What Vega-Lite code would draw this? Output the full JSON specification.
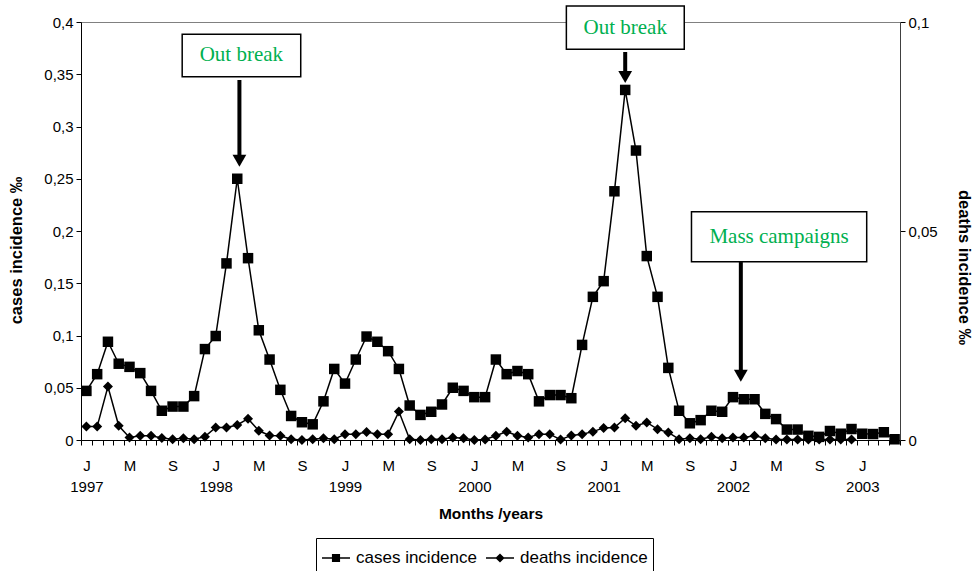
{
  "$schema": "https://vega.github.io/schema/vega-lite/v6.json",
  "width": 819,
  "height": 418,
  "autosize": {"type": "none"},
  "padding": {"left": 81, "top": 22, "right": 72, "bottom": 131},
  "config": {
    "view": {"stroke": "#808080", "strokeWidth": 1},
    "font": "Liberation Sans",
    "axis": {
      "grid": false,
      "domainColor": "black",
      "tickColor": "black",
      "labelColor": "black",
      "titleColor": "black",
      "labelFont": "Liberation Sans",
      "labelFontSize": 15,
      "titleFont": "Liberation Sans",
      "titleFontSize": 16.5,
      "titleFontWeight": "bold",
      "tickSize": 5,
      "domainWidth": 1,
      "tickWidth": 1
    },
    "legend": {
      "labelFont": "Liberation Sans",
      "labelFontSize": 17,
      "labelColor": "black"
    }
  },
  "datasets": {
    "series": [
      {"i": 0, "month": "1997-01", "cases": 0.047, "deaths": 0.0032},
      {"i": 1, "month": "1997-02", "cases": 0.063, "deaths": 0.0032},
      {"i": 2, "month": "1997-03", "cases": 0.094, "deaths": 0.0128},
      {"i": 3, "month": "1997-04", "cases": 0.073, "deaths": 0.0034},
      {"i": 4, "month": "1997-05", "cases": 0.070, "deaths": 0.0006},
      {"i": 5, "month": "1997-06", "cases": 0.064, "deaths": 0.001},
      {"i": 6, "month": "1997-07", "cases": 0.047, "deaths": 0.001},
      {"i": 7, "month": "1997-08", "cases": 0.028, "deaths": 0.0005},
      {"i": 8, "month": "1997-09", "cases": 0.032, "deaths": 0.0002},
      {"i": 9, "month": "1997-10", "cases": 0.032, "deaths": 0.0004},
      {"i": 10, "month": "1997-11", "cases": 0.042, "deaths": 0.0002},
      {"i": 11, "month": "1997-12", "cases": 0.087, "deaths": 0.0008},
      {"i": 12, "month": "1998-01", "cases": 0.0995, "deaths": 0.003},
      {"i": 13, "month": "1998-02", "cases": 0.169, "deaths": 0.003},
      {"i": 14, "month": "1998-03", "cases": 0.25, "deaths": 0.0036},
      {"i": 15, "month": "1998-04", "cases": 0.174, "deaths": 0.0051},
      {"i": 16, "month": "1998-05", "cases": 0.105, "deaths": 0.0022},
      {"i": 17, "month": "1998-06", "cases": 0.077, "deaths": 0.0011},
      {"i": 18, "month": "1998-07", "cases": 0.048, "deaths": 0.001},
      {"i": 19, "month": "1998-08", "cases": 0.023, "deaths": 0.0002},
      {"i": 20, "month": "1998-09", "cases": 0.017, "deaths": 0},
      {"i": 21, "month": "1998-10", "cases": 0.015, "deaths": 0.0002},
      {"i": 22, "month": "1998-11", "cases": 0.037, "deaths": 0.0004},
      {"i": 23, "month": "1998-12", "cases": 0.068, "deaths": 0.0002},
      {"i": 24, "month": "1999-01", "cases": 0.054, "deaths": 0.0014},
      {"i": 25, "month": "1999-02", "cases": 0.077, "deaths": 0.0014},
      {"i": 26, "month": "1999-03", "cases": 0.099, "deaths": 0.0019},
      {"i": 27, "month": "1999-04", "cases": 0.094, "deaths": 0.0014},
      {"i": 28, "month": "1999-05", "cases": 0.085, "deaths": 0.0014},
      {"i": 29, "month": "1999-06", "cases": 0.068, "deaths": 0.0068},
      {"i": 30, "month": "1999-07", "cases": 0.033, "deaths": 0.0002},
      {"i": 31, "month": "1999-08", "cases": 0.024, "deaths": 0},
      {"i": 32, "month": "1999-09", "cases": 0.027, "deaths": 0.0002},
      {"i": 33, "month": "1999-10", "cases": 0.034, "deaths": 0.0002},
      {"i": 34, "month": "1999-11", "cases": 0.050, "deaths": 0.0006},
      {"i": 35, "month": "1999-12", "cases": 0.047, "deaths": 0.0004},
      {"i": 36, "month": "2000-01", "cases": 0.041, "deaths": 0},
      {"i": 37, "month": "2000-02", "cases": 0.041, "deaths": 0.0001},
      {"i": 38, "month": "2000-03", "cases": 0.077, "deaths": 0.001},
      {"i": 39, "month": "2000-04", "cases": 0.063, "deaths": 0.002},
      {"i": 40, "month": "2000-05", "cases": 0.066, "deaths": 0.001},
      {"i": 41, "month": "2000-06", "cases": 0.063, "deaths": 0.0006},
      {"i": 42, "month": "2000-07", "cases": 0.037, "deaths": 0.0014},
      {"i": 43, "month": "2000-08", "cases": 0.043, "deaths": 0.0014},
      {"i": 44, "month": "2000-09", "cases": 0.043, "deaths": 0.0001},
      {"i": 45, "month": "2000-10", "cases": 0.040, "deaths": 0.0011},
      {"i": 46, "month": "2000-11", "cases": 0.091, "deaths": 0.0014},
      {"i": 47, "month": "2000-12", "cases": 0.137, "deaths": 0.002},
      {"i": 48, "month": "2001-01", "cases": 0.152, "deaths": 0.0029},
      {"i": 49, "month": "2001-02", "cases": 0.238, "deaths": 0.003},
      {"i": 50, "month": "2001-03", "cases": 0.335, "deaths": 0.0052},
      {"i": 51, "month": "2001-04", "cases": 0.277, "deaths": 0.0034},
      {"i": 52, "month": "2001-05", "cases": 0.176, "deaths": 0.0042},
      {"i": 53, "month": "2001-06", "cases": 0.137, "deaths": 0.0026},
      {"i": 54, "month": "2001-07", "cases": 0.069, "deaths": 0.0018},
      {"i": 55, "month": "2001-08", "cases": 0.028, "deaths": 0.0002},
      {"i": 56, "month": "2001-09", "cases": 0.016, "deaths": 0.0004},
      {"i": 57, "month": "2001-10", "cases": 0.019, "deaths": 0.0002},
      {"i": 58, "month": "2001-11", "cases": 0.028, "deaths": 0.0008},
      {"i": 59, "month": "2001-12", "cases": 0.027, "deaths": 0.0004},
      {"i": 60, "month": "2002-01", "cases": 0.041, "deaths": 0.0006},
      {"i": 61, "month": "2002-02", "cases": 0.039, "deaths": 0.0006},
      {"i": 62, "month": "2002-03", "cases": 0.039, "deaths": 0.001},
      {"i": 63, "month": "2002-04", "cases": 0.025, "deaths": 0.0004},
      {"i": 64, "month": "2002-05", "cases": 0.020, "deaths": 0.0001},
      {"i": 65, "month": "2002-06", "cases": 0.010, "deaths": 0.0001},
      {"i": 66, "month": "2002-07", "cases": 0.010, "deaths": 0.0001},
      {"i": 67, "month": "2002-08", "cases": 0.004, "deaths": 0.0001},
      {"i": 68, "month": "2002-09", "cases": 0.003, "deaths": 0.0001},
      {"i": 69, "month": "2002-10", "cases": 0.0086, "deaths": 0.0001},
      {"i": 70, "month": "2002-11", "cases": 0.006, "deaths": 0.0001},
      {"i": 71, "month": "2002-12", "cases": 0.0105, "deaths": 0.0001},
      {"i": 72, "month": "2003-01", "cases": 0.006, "deaths": null},
      {"i": 73, "month": "2003-02", "cases": 0.0057, "deaths": null},
      {"i": 74, "month": "2003-03", "cases": 0.0074, "deaths": null},
      {"i": 75, "month": "2003-04", "cases": 0.0007, "deaths": null}
    ],
    "boxes": [
      {"i": 8.89, "i2": 19.89, "y": 0.3882, "y2": 0.3477},
      {"i": 44.54, "i2": 55.48, "y": 0.4153, "y2": 0.3739},
      {"i": 56.15, "i2": 72.41, "y": 0.2185, "y2": 0.1706}
    ],
    "labels": [
      {"i": 14.38, "y": 0.368, "text": "Out break"},
      {"i": 50.0, "y": 0.3946, "text": "Out break"},
      {"i": 64.28, "y": 0.1945, "text": "Mass campaigns"}
    ],
    "arrows": [
      {"i": 14.2, "y": 0.3445, "y2": 0.2673, "tip": 0.2673},
      {"i": 50.0, "y": 0.3713, "y2": 0.3474, "tip": 0.3474},
      {"i": 60.73, "y": 0.1703, "y2": 0.0615, "tip": 0.0615}
    ],
    "legendItems": []
  },
  "encoding": {
    "x": {
      "field": "i",
      "type": "quantitative",
      "scale": {"domain": [-0.5, 75.5], "nice": false, "zero": false},
      "axis": {
        "values": [-0.5, 0.5, 1.5, 2.5, 3.5, 4.5, 5.5, 6.5, 7.5, 8.5, 9.5, 10.5, 11.5, 12.5, 13.5, 14.5, 15.5, 16.5, 17.5, 18.5, 19.5, 20.5, 21.5, 22.5, 23.5, 24.5, 25.5, 26.5, 27.5, 28.5, 29.5, 30.5, 31.5, 32.5, 33.5, 34.5, 35.5, 36.5, 37.5, 38.5, 39.5, 40.5, 41.5, 42.5, 43.5, 44.5, 45.5, 46.5, 47.5, 48.5, 49.5, 50.5, 51.5, 52.5, 53.5, 54.5, 55.5, 56.5, 57.5, 58.5, 59.5, 60.5, 61.5, 62.5, 63.5, 64.5, 65.5, 66.5, 67.5, 68.5, 69.5, 70.5, 71.5, 72.5, 73.5, 74.5, 75.5],
        "labelExpr": "datum.value > 74 ? '' : ((datum.value + 0.5) % 12 == 0 ? ['J', '' + (1997 + (datum.value + 0.5) / 12)] : ((datum.value + 0.5) % 12 == 4 ? 'M' : ((datum.value + 0.5) % 12 == 8 ? 'S' : '')))",
        "labelOffset": 5.4,
        "labelOverlap": false,
        "labelFlush": false,
        "labelBound": false,
        "labelPadding": 13,
        "labelLineHeight": 21,
        "title": "Months /years",
        "titleFontSize": 15.5,
        "titlePadding": 12
      }
    }
  },
  "layer": [
    {
      "layer": [
        {
          "data": {"name": "series"},
          "mark": {"type": "line", "color": "black", "strokeWidth": 1.5},
          "encoding": {
            "y": {
              "field": "cases",
              "type": "quantitative",
              "title": "cases incidence ‰",
              "scale": {"domain": [0, 0.4], "nice": false, "zero": true},
              "axis": {
                "values": [0, 0.05, 0.1, 0.15, 0.2, 0.25, 0.3, 0.35, 0.4],
                "labelExpr": "replace(toString(datum.value), '.', ',')",
                "labelPadding": 3,
                "titleX": -57,
                "titleY": 228
              }
            }
          }
        },
        {
          "data": {"name": "series"},
          "mark": {"type": "point", "shape": "square", "filled": true, "color": "black", "size": 110, "opacity": 1},
          "encoding": {
            "y": {"field": "cases", "type": "quantitative", "title": "cases incidence ‰"}
          }
        },
        {
          "data": {"name": "boxes"},
          "mark": {"type": "rect", "fill": "white", "stroke": "black", "strokeWidth": 1.5},
          "encoding": {
            "x2": {"field": "i2"},
            "y": {"field": "y", "type": "quantitative", "title": "cases incidence ‰"},
            "y2": {"field": "y2"}
          }
        },
        {
          "data": {"name": "arrows"},
          "mark": {"type": "rule", "color": "black", "strokeWidth": 4},
          "encoding": {
            "y": {"field": "y", "type": "quantitative", "title": "cases incidence ‰"},
            "y2": {"field": "y2"}
          }
        },
        {
          "data": {"name": "arrows"},
          "mark": {"type": "point", "shape": "triangle-down", "filled": true, "color": "black", "size": 190, "opacity": 1},
          "encoding": {
            "y": {"field": "tip", "type": "quantitative", "title": "cases incidence ‰"}
          }
        },
        {
          "data": {"name": "labels"},
          "mark": {"type": "text", "font": "Liberation Serif", "fontSize": 21, "color": "#00b050", "align": "center", "baseline": "middle"},
          "encoding": {
            "y": {"field": "y", "type": "quantitative", "title": "cases incidence ‰"},
            "text": {"field": "text"}
          }
        },
        {
          "data": {"name": "legendItems"},
          "mark": {"type": "point", "filled": true, "color": "black", "opacity": 1},
          "encoding": {
            "y": {"field": "v", "type": "quantitative", "title": "cases incidence ‰"},
            "shape": {
              "field": "series",
              "type": "nominal",
              "scale": {
                "domain": ["cases incidence", "deaths incidence"],
                "range": ["M-1,-0.055L1,-0.055L1,0.055L-1,0.055ZM-0.29,-0.29L0.29,-0.29L0.29,0.29L-0.29,0.29Z", "M-1,-0.055L1,-0.055L1,0.055L-1,0.055ZM0,-0.33L0.33,0L0,0.33L-0.33,0Z"]
              },
              "legend": {
                "title": null,
                "orient": "none",
                "legendX": 235,
                "legendY": 516,
                "direction": "horizontal",
                "strokeColor": "black",
                "padding": 5,
                "columnPadding": 6,
                "symbolSize": 784,
                "symbolFillColor": "black",
                "symbolOpacity": 1,
                "labelOffset": 5
              }
            }
          }
        }
      ]
    },
    {
      "data": {"name": "series"},
      "layer": [
        {
          "mark": {"type": "line", "color": "black", "strokeWidth": 1.5},
          "encoding": {
            "y": {
              "field": "deaths",
              "type": "quantitative",
              "title": "deaths incidence ‰",
              "scale": {"domain": [0, 0.1], "nice": false, "zero": true},
              "axis": {
                "orient": "right",
                "values": [0, 0.05, 0.1],
                "labelExpr": "replace(toString(datum.value), '.', ',')",
                "domainColor": "#404040",
                "labelPadding": 3,
                "titleX": 55,
                "titleY": 245
              }
            }
          }
        },
        {
          "mark": {"type": "point", "shape": "diamond", "filled": true, "color": "black", "size": 100, "opacity": 1},
          "encoding": {
            "y": {"field": "deaths", "type": "quantitative", "title": "deaths incidence ‰"}
          }
        }
      ]
    }
  ],
  "resolve": {"scale": {"y": "independent"}}
}
